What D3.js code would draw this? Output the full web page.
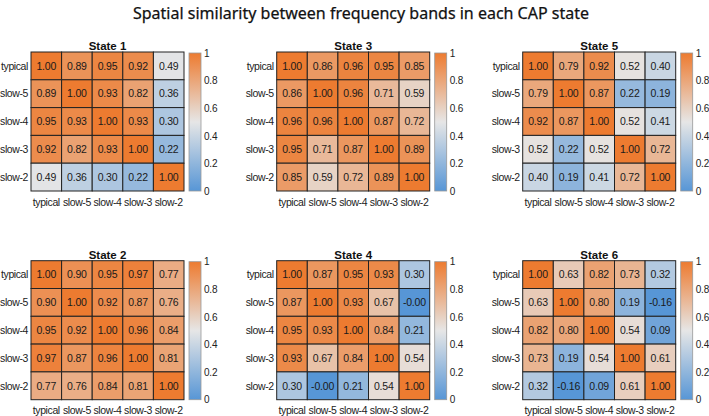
<!DOCTYPE html>
<html><head><meta charset="utf-8">
<script src="https://cdn.jsdelivr.net/npm/d3@7"></script>
<style>body{margin:0;background:#fff}svg{display:block}</style>
</head><body>
<svg id="c" width="709" height="416"></svg>
<script>
const title = "Spatial similarity between frequency bands in each CAP state";
const bands = ["typical","slow-5","slow-4","slow-3","slow-2"];
const stateNames = ["State 1","State 2","State 3","State 4","State 5","State 6"];
const state1 = [[1.00,0.89,0.95,0.92,0.49],[0.89,1.00,0.93,0.82,0.36],[0.95,0.93,1.00,0.93,0.30],[0.92,0.82,0.93,1.00,0.22],[0.49,0.36,0.30,0.22,1.00]];
const state2 = [[1.00,0.90,0.95,0.97,0.77],[0.90,1.00,0.92,0.87,0.76],[0.95,0.92,1.00,0.96,0.84],[0.97,0.87,0.96,1.00,0.81],[0.77,0.76,0.84,0.81,1.00]];
const state3 = [[1.00,0.86,0.96,0.95,0.85],[0.86,1.00,0.96,0.71,0.59],[0.96,0.96,1.00,0.87,0.72],[0.95,0.71,0.87,1.00,0.89],[0.85,0.59,0.72,0.89,1.00]];
const state4 = [[1.00,0.87,0.95,0.93,0.30],[0.87,1.00,0.93,0.67,-0.001],[0.95,0.93,1.00,0.84,0.21],[0.93,0.67,0.84,1.00,0.54],[0.30,-0.001,0.21,0.54,1.00]];
const state5 = [[1.00,0.79,0.92,0.52,0.40],[0.79,1.00,0.87,0.22,0.19],[0.92,0.87,1.00,0.52,0.41],[0.52,0.22,0.52,1.00,0.72],[0.40,0.19,0.41,0.72,1.00]];
const state6 = [[1.00,0.63,0.82,0.73,0.32],[0.63,1.00,0.80,0.19,-0.16],[0.82,0.80,1.00,0.54,0.09],[0.73,0.19,0.54,1.00,0.61],[0.32,-0.16,0.09,0.61,1.00]];
const cbTicks = [0,0.2,0.4,0.6,0.8,1];

const matrices = [state1,state2,state3,state4,state5,state6];
const gridCol = [0,0,1,1,2,2];
const gridRow = [0,1,0,1,0,1];

const svg = d3.select("#c");
const font = "'Liberation Sans', Arial, sans-serif";

svg.append("text").attr("x",361).attr("y",19).attr("text-anchor","middle")
  .attr("font-family","'Noto Sans', 'Open Sans', sans-serif").attr("font-size",16)
  .attr("fill","#111").attr("stroke","#111").attr("stroke-width",0.25).text(title);

const color = d3.scaleLinear().domain([0,0.5,1]).range(["#5796d6","#e6e6e6","#ed7b30"]).clamp(true);

const colX = [31,276.7,522.7];
const rowY = [52,260.7];
const W = 153, H = 139;

matrices.forEach((m,k)=>{
  const g = svg.append("g").attr("transform",`translate(${colX[gridCol[k]]},${rowY[gridRow[k]]})`);
  const x = d3.scaleBand().domain(bands).range([0,W]);
  const y = d3.scaleBand().domain(bands).range([0,H]);
  const cells = [];
  m.forEach((row,i)=>row.forEach((v,j)=>cells.push({r:bands[i],c:bands[j],v})));
  g.selectAll("rect.cell").data(cells).join("rect").attr("class","cell")
    .attr("x",d=>x(d.c)).attr("y",d=>y(d.r)).attr("width",x.bandwidth()).attr("height",y.bandwidth())
    .attr("fill",d=>color(d.v)).attr("stroke","#222").attr("stroke-width",1);
  g.selectAll("text.val").data(cells).join("text").attr("class","val")
    .attr("x",d=>x(d.c)+x.bandwidth()/2).attr("y",d=>y(d.r)+y.bandwidth()/2)
    .attr("dy","0.36em").attr("text-anchor","middle").attr("font-family",font).attr("font-size",10.5)
    .attr("letter-spacing",-0.2).attr("fill","#1a1a1a").text(d=>d.v.toFixed(2));
  g.selectAll("text.rl").data(bands).join("text").attr("class","rl")
    .attr("x",-3).attr("y",d=>y(d)+y.bandwidth()/2).attr("dy","0.36em").attr("text-anchor","end")
    .attr("font-family",font).attr("font-size",10.5).attr("letter-spacing",-0.4).attr("fill","#222").text(d=>d);
  g.selectAll("text.cl").data(bands).join("text").attr("class","cl")
    .attr("x",d=>x(d)+x.bandwidth()/2).attr("y",H+11).attr("dy","0.36em").attr("text-anchor","middle")
    .attr("font-family",font).attr("font-size",10.5).attr("letter-spacing",-0.4).attr("fill","#222").text(d=>d);
  g.append("text").attr("x",W/2).attr("y",-2).attr("text-anchor","middle")
    .attr("font-family",font).attr("font-size",11.5).attr("font-weight","bold").attr("fill","#111").text(stateNames[k]);
  const cbX = W+5, cbW = 12;
  const cy = d3.scaleLinear().domain([0,1]).range([H,1]);
  const gid = "grad"+k;
  const grad = svg.append("defs").append("linearGradient").attr("id",gid)
    .attr("x1",0).attr("y1",1).attr("x2",0).attr("y2",0);
  d3.range(0,1.0001,0.1).forEach(t=>grad.append("stop").attr("offset",t).attr("stop-color",color(t)));
  g.append("rect").attr("x",cbX).attr("y",cy(1)).attr("width",cbW).attr("height",cy(0)-cy(1))
    .attr("fill",`url(#${gid})`).attr("stroke","#999").attr("stroke-width",0.8);
  const ax = g.append("g").attr("transform",`translate(${cbX+cbW},0)`)
    .call(d3.axisRight(cy).tickValues(cbTicks).tickSize(0).tickPadding(3).tickFormat(d=>d===0||d===1?String(d):d.toFixed(1)));
  ax.select(".domain").remove();
  ax.selectAll("text").attr("font-family",font).attr("font-size",10).attr("letter-spacing",-0.2).attr("fill","#222");
});
</script>
</body></html>
